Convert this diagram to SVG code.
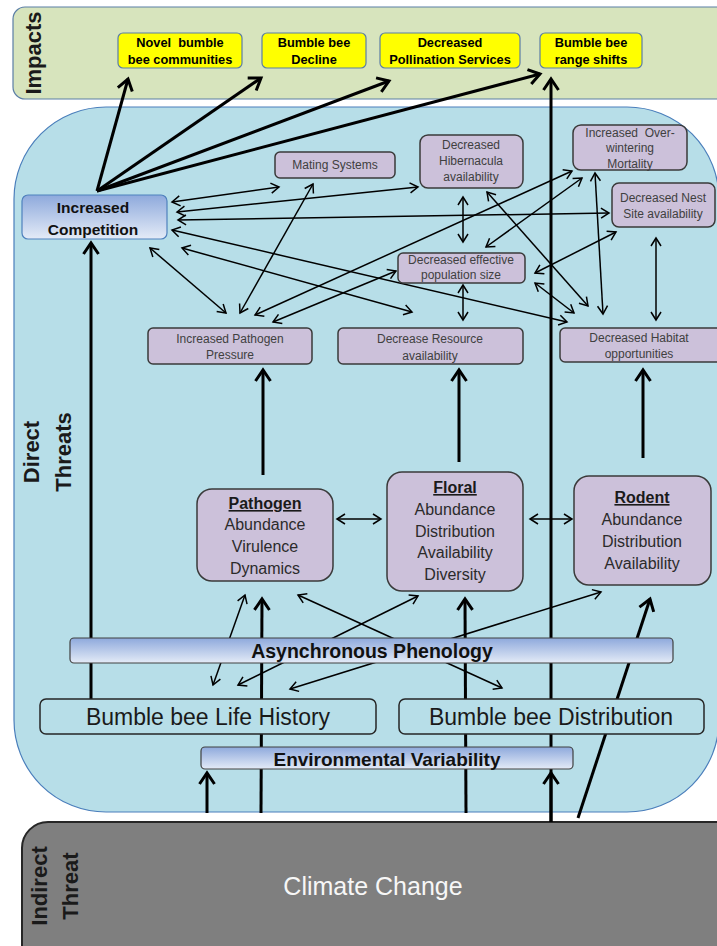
<svg xmlns="http://www.w3.org/2000/svg" width="717" height="946" viewBox="0 0 717 946">
  <defs>
    <linearGradient id="barGrad" x1="0" y1="0" x2="0" y2="1">
      <stop offset="0" stop-color="#8ea9dc"/>
      <stop offset="1" stop-color="#e4ebf7"/>
    </linearGradient>
    <marker id="ahThick" markerUnits="userSpaceOnUse" orient="auto" overflow="visible" refX="0" refY="0" markerWidth="1" markerHeight="1">
      <path d="M-11,-7.5 L0,0 L-11,7.5" fill="none" stroke="#000" stroke-width="3"/>
    </marker>
    <marker id="ahThin" markerUnits="userSpaceOnUse" orient="auto-start-reverse" overflow="visible" refX="0" refY="0" markerWidth="1" markerHeight="1">
      <path d="M-8,-5 L0,0 L-8,5" fill="none" stroke="#000" stroke-width="1.5"/>
    </marker>
    <style>
      text { font-family: "Liberation Sans", Arial, sans-serif; text-anchor: middle; }
      .thick { stroke: #000; stroke-width: 3; fill: none; marker-end: url(#ahThick); }
      .plain { stroke: #000; stroke-width: 3; fill: none; }
      .thin { stroke: #000; stroke-width: 1.5; fill: none; marker-start: url(#ahThin); marker-end: url(#ahThin); }
      .impact { fill: #ffff00; stroke: #5b7ea6; stroke-width: 1.2; }
      .impact-t { font-size: 12.8px; font-weight: bold; fill: #000; }
      .effect { fill: #ccc1da; stroke: #3a3a3a; stroke-width: 1.5; }
      .effect-t { font-size: 12px; fill: #404040; }
      .driver { fill: #ccc1da; stroke: #3a3a3a; stroke-width: 1.5; }
      .driver-t { font-size: 16px; fill: #2b2b2b; }
      .driver-h { font-weight: bold; text-decoration: underline; fill: #1a1a1a; }
      .bar { fill: url(#barGrad); stroke: #404040; stroke-width: 1.2; }
      .bar-t { font-weight: bold; fill: #111; }
      .bee { fill: #b7dee8; stroke: #262626; stroke-width: 1.5; }
      .bee-t { font-size: 23px; fill: #1a1a1a; }
      .side { font-size: 22px; font-weight: bold; fill: #1a1a1a; }
    </style>
  </defs>

  <!-- background bands -->
  <g id="bands">
    <rect id="impacts-band" x="13" y="7" width="730" height="92" rx="12" fill="#d7e4bd" stroke="#5b7ea6" stroke-width="1.2"/>
    <rect id="direct-band" x="14" y="107" width="705" height="705" rx="92" fill="#b7dee8" stroke="#4a7ebb" stroke-width="1.2"/>
    <text class="side" transform="translate(41,53) rotate(-90)">Impacts</text>
    <text class="side" transform="translate(38.5,452) rotate(-90)">Direct</text>
    <text class="side" transform="translate(70.5,452) rotate(-90)">Threats</text>
  </g>

  <!-- climate change node -->
  <g id="node-climate">
    <rect x="22" y="822" width="730" height="160" rx="26" fill="#7f7f7f" stroke="#262626" stroke-width="2"/>
    <text class="side" transform="translate(47,886) rotate(-90)">Indirect</text>
    <text class="side" transform="translate(78,886) rotate(-90)">Threat</text>
    <text x="373" y="895" font-size="25" fill="#f7f7f7">Climate Change</text>
  </g>

  <!-- connectors -->
  <g id="connectors">
    <!-- competition to impacts -->
    <line class="thick" x1="97" y1="191" x2="128" y2="79"/>
    <line class="thick" x1="97" y1="191" x2="261" y2="78"/>
    <line class="thick" x1="97" y1="191" x2="389" y2="81"/>
    <line class="thick" x1="97" y1="191" x2="540" y2="74"/>
    <!-- climate straight to range shifts -->
    <line class="thick" x1="551" y1="822" x2="551" y2="79"/>
    <!-- climate to environmental variability -->
    <line class="thick" x1="551" y1="822" x2="551" y2="773"/>
    <line class="thick" x1="207" y1="813" x2="207" y2="773"/>
    <!-- climate up to drivers -->
    <line class="thick" x1="261" y1="813" x2="262" y2="599"/>
    <line class="thick" x1="466" y1="813" x2="465" y2="599"/>
    <line class="thick" x1="578" y1="818" x2="650" y2="599"/>
    <!-- life history to competition -->
    <line class="thick" x1="91" y1="700" x2="91" y2="243"/>
    <!-- drivers to effects -->
    <line class="thick" x1="263" y1="475" x2="263" y2="370"/>
    <line class="thick" x1="459" y1="462" x2="459" y2="370"/>
    <line class="thick" x1="643" y1="458" x2="643" y2="370"/>

    <!-- competition links -->
    <line class="thin" x1="172" y1="202" x2="279" y2="187"/>
    <line class="thin" x1="177" y1="212" x2="418" y2="187"/>
    <line class="thin" x1="178" y1="220" x2="609" y2="213"/>
    <line class="thin" x1="172" y1="230" x2="567" y2="322"/>
    <line class="thin" x1="182" y1="248" x2="412" y2="312"/>
    <line class="thin" x1="150" y1="248" x2="226" y2="313"/>
    <!-- effect web -->
    <line class="thin" x1="313" y1="184" x2="240" y2="313"/>
    <line class="thin" x1="255" y1="315" x2="572" y2="171"/>
    <line class="thin" x1="273" y1="322" x2="396" y2="271"/>
    <line class="thin" x1="463" y1="197" x2="463" y2="242"/>
    <line class="thin" x1="463" y1="285" x2="463" y2="320"/>
    <line class="thin" x1="487" y1="192" x2="588" y2="306"/>
    <line class="thin" x1="582" y1="178" x2="486" y2="247"/>
    <line class="thin" x1="595" y1="173" x2="603" y2="314"/>
    <line class="thin" x1="616" y1="232" x2="535" y2="273"/>
    <line class="thin" x1="535" y1="283" x2="574" y2="313"/>
    <line class="thin" x1="656" y1="238" x2="656" y2="320"/>
    <!-- driver links -->
    <line class="thin" x1="337" y1="519" x2="381" y2="519"/>
    <line class="thin" x1="530" y1="519" x2="572" y2="519"/>
    <line class="thin" x1="213" y1="685" x2="245" y2="595"/>
    <line class="thin" x1="298" y1="595" x2="502" y2="688"/>
    <line class="thin" x1="418" y1="596" x2="238" y2="685"/>
    <line class="thin" x1="601" y1="592" x2="290" y2="689"/>
  </g>

  <!-- impacts -->
  <g id="node-novel">
    <rect class="impact" x="118" y="33" width="124" height="35" rx="5"/>
    <text class="impact-t" x="180" y="47" xml:space="preserve">Novel  bumble</text>
    <text class="impact-t" x="180" y="64">bee communities</text>
  </g>
  <g id="node-decline">
    <rect class="impact" x="262" y="33" width="104" height="35" rx="5"/>
    <text class="impact-t" x="314" y="47">Bumble bee</text>
    <text class="impact-t" x="314" y="64">Decline</text>
  </g>
  <g id="node-pollination">
    <rect class="impact" x="380" y="33" width="140" height="35" rx="5"/>
    <text class="impact-t" x="450" y="47">Decreased</text>
    <text class="impact-t" x="450" y="64">Pollination Services</text>
  </g>
  <g id="node-range">
    <rect class="impact" x="540" y="33" width="102" height="35" rx="5"/>
    <text class="impact-t" x="591" y="47">Bumble bee</text>
    <text class="impact-t" x="591" y="64">range shifts</text>
  </g>

  <!-- competition -->
  <g id="node-competition">
    <rect x="22" y="195" width="145" height="44" rx="6" fill="url(#barGrad)" stroke="#4f81bd" stroke-width="1.2"/>
    <text class="bar-t" x="93" y="213" font-size="15.5">Increased</text>
    <text class="bar-t" x="93" y="235" font-size="15.5">Competition</text>
  </g>

  <!-- effects -->
  <g id="node-mating">
    <rect class="effect" x="275" y="152" width="120" height="26" rx="5"/>
    <text class="effect-t" x="335" y="169" font-size="11.5">Mating Systems</text>
  </g>
  <g id="node-hibernacula">
    <rect class="effect" x="420" y="135" width="103" height="53" rx="8"/>
    <text class="effect-t" x="471" y="149">Decreased</text>
    <text class="effect-t" x="471" y="165">Hibernacula</text>
    <text class="effect-t" x="471" y="181">availability</text>
  </g>
  <g id="node-overwintering">
    <rect class="effect" x="573" y="125" width="114" height="45" rx="8"/>
    <text class="effect-t" x="630" y="137" xml:space="preserve">Increased  Over-</text>
    <text class="effect-t" x="630" y="152">wintering</text>
    <text class="effect-t" x="630" y="168">Mortality</text>
  </g>
  <g id="node-nest">
    <rect class="effect" x="612" y="183" width="103" height="44" rx="7"/>
    <text class="effect-t" x="663" y="202">Decreased Nest</text>
    <text class="effect-t" x="663" y="218">Site availability</text>
  </g>
  <g id="node-population">
    <rect class="effect" x="398" y="253" width="127" height="30" rx="5"/>
    <text class="effect-t" x="461" y="264" font-size="11.8">Decreased effective</text>
    <text class="effect-t" x="461" y="279" font-size="11.8">population size</text>
  </g>
  <g id="node-pressure">
    <rect class="effect" x="148" y="328" width="164" height="36" rx="5"/>
    <text class="effect-t" x="230" y="343" font-size="13.5">Increased Pathogen</text>
    <text class="effect-t" x="230" y="359" font-size="13.5">Pressure</text>
  </g>
  <g id="node-resource">
    <rect class="effect" x="338" y="328" width="185" height="36" rx="5"/>
    <text class="effect-t" x="430" y="343" font-size="13.5">Decrease Resource</text>
    <text class="effect-t" x="430" y="360" font-size="13.5">availability</text>
  </g>
  <g id="node-habitat">
    <rect class="effect" x="560" y="328" width="165" height="34" rx="5"/>
    <text class="effect-t" x="639" y="342" font-size="13.5">Decreased Habitat</text>
    <text class="effect-t" x="639" y="358" font-size="13.5">opportunities</text>
  </g>

  <!-- drivers -->
  <g id="node-pathogen">
    <rect class="driver" x="197" y="489" width="136" height="92" rx="15"/>
    <text class="driver-t" x="265" y="509"><tspan class="driver-h">Pathogen</tspan></text>
    <text class="driver-t" x="265" y="530">Abundance</text>
    <text class="driver-t" x="265" y="552">Virulence</text>
    <text class="driver-t" x="265" y="574">Dynamics</text>
  </g>
  <g id="node-floral">
    <rect class="driver" x="387" y="472" width="136" height="119" rx="15"/>
    <text class="driver-t" x="455" y="493"><tspan class="driver-h">Floral</tspan></text>
    <text class="driver-t" x="455" y="515">Abundance</text>
    <text class="driver-t" x="455" y="537">Distribution</text>
    <text class="driver-t" x="455" y="558">Availability</text>
    <text class="driver-t" x="455" y="580">Diversity</text>
  </g>
  <g id="node-rodent">
    <rect class="driver" x="574" y="476" width="137" height="109" rx="15"/>
    <text class="driver-t" x="642" y="503"><tspan class="driver-h">Rodent</tspan></text>
    <text class="driver-t" x="642" y="525">Abundance</text>
    <text class="driver-t" x="642" y="547">Distribution</text>
    <text class="driver-t" x="642" y="569">Availability</text>
  </g>

  <!-- phenology, bee traits, environment -->
  <g id="node-phenology">
    <rect class="bar" x="70" y="638" width="603" height="25" rx="4"/>
    <text class="bar-t" x="372" y="658" font-size="19.5">Asynchronous Phenology</text>
  </g>
  <g id="node-lifehistory">
    <rect class="bee" x="40" y="699" width="336" height="35" rx="6"/>
    <text class="bee-t" x="208" y="725">Bumble bee Life History</text>
  </g>
  <g id="node-distribution">
    <rect class="bee" x="399" y="699" width="305" height="35" rx="6"/>
    <text class="bee-t" x="551" y="725">Bumble bee Distribution</text>
  </g>
  <g id="node-environment">
    <rect class="bar" x="201" y="747" width="372" height="22" rx="4"/>
    <text class="bar-t" x="387" y="766" font-size="19">Environmental Variability</text>
  </g>
</svg>
